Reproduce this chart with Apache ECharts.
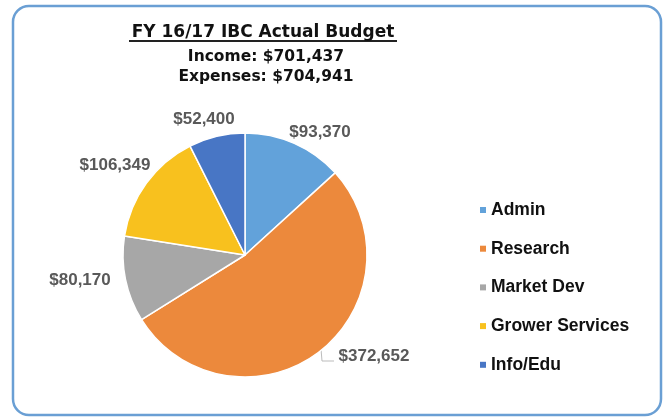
<!DOCTYPE html>
<html><head><meta charset="utf-8">
<script src="https://cdn.jsdelivr.net/npm/echarts@6/dist/echarts.min.js"></script>
<style>html,body{margin:0;padding:0;background:#fff}#c{width:671px;height:419px}</style>
</head><body><div id="c"></div>
<script>
const categories = ['Admin', 'Research', 'Market Dev', 'Grower Services', 'Info/Edu'];
const values = [93370, 372652, 80170, 106349, 52400];
const titleText = 'FY 16/17 IBC Actual Budget';
const subText = ['Income: $701,437', 'Expenses: $704,941'];

const colors = ['#62A2DA', '#EC893C', '#A7A7A7', '#F8C11E', '#4876C5'];
const labelAt = [[320, 132], [374, 356], [80, 280], [115, 165], [204, 119]];
const researchLeader = [[321, 349], [322, 361], [334, 361]];

const chart = echarts.init(document.getElementById('c'));
const fmt = v => '$' + v.toLocaleString('en-US');
const headFont = { fontFamily: 'DejaVu Sans', fontWeight: 'bold', color: '#111' };
chart.setOption({
  backgroundColor: '#fff',
  animation: false,
  title: [
    { text: titleText, left: 263, top: 24, textAlign: 'center', padding: 0,
      textStyle: Object.assign({ fontSize: 17, lineHeight: 18 }, headFont) },
    { text: subText[0], left: 266, top: 48, textAlign: 'center', padding: 0,
      textStyle: Object.assign({ fontSize: 15.5, lineHeight: 17 }, headFont) },
    { text: subText[1], left: 266, top: 68, textAlign: 'center', padding: 0,
      textStyle: Object.assign({ fontSize: 15.5, lineHeight: 17 }, headFont) }
  ],
  graphic: [
    { type: 'rect', shape: { x: 13, y: 6, width: 648, height: 409, r: 16 }, style: { fill: 'none', stroke: '#6A9FD4', lineWidth: 2.5 }, z: -1 },
    { type: 'line', shape: { x1: 129, y1: 41, x2: 397, y2: 41 }, style: { stroke: '#222', lineWidth: 2 } }
  ],
  legend: {
    orient: 'vertical', left: 475, top: 196,
    itemWidth: 6, itemHeight: 6, itemGap: 20.7, icon: 'rect', itemStyle: { borderWidth: 0 },
    textStyle: { fontFamily: 'Liberation Sans', fontWeight: 'bold', fontSize: 17.5, lineHeight: 18, color: '#111' },
    data: categories
  },
  series: [{
    type: 'pie',
    center: [245, 255], radius: 122,
    startAngle: 90, clockwise: true,
    itemStyle: { borderColor: '#fff', borderWidth: 1.5 },
    label: {
      show: true, position: 'outside', formatter: p => fmt(p.value),
      fontFamily: 'Liberation Sans', fontWeight: 'bold', fontSize: 17, color: '#595959'
    },
    labelLine: { show: false },
    labelLayout: p => {
      const o = { x: labelAt[p.dataIndex][0], y: labelAt[p.dataIndex][1], align: 'center', verticalAlign: 'middle' };
      if (p.dataIndex === 1) o.labelLinePoints = researchLeader;
      return o;
    },
    data: categories.map((c, i) => ({
      name: c, value: values[i], itemStyle: { color: colors[i] },
      labelLine: i === 1 ? { show: true, lineStyle: { color: '#BBBBBB', width: 1 } } : undefined
    }))
  }]
});
</script></body></html>
